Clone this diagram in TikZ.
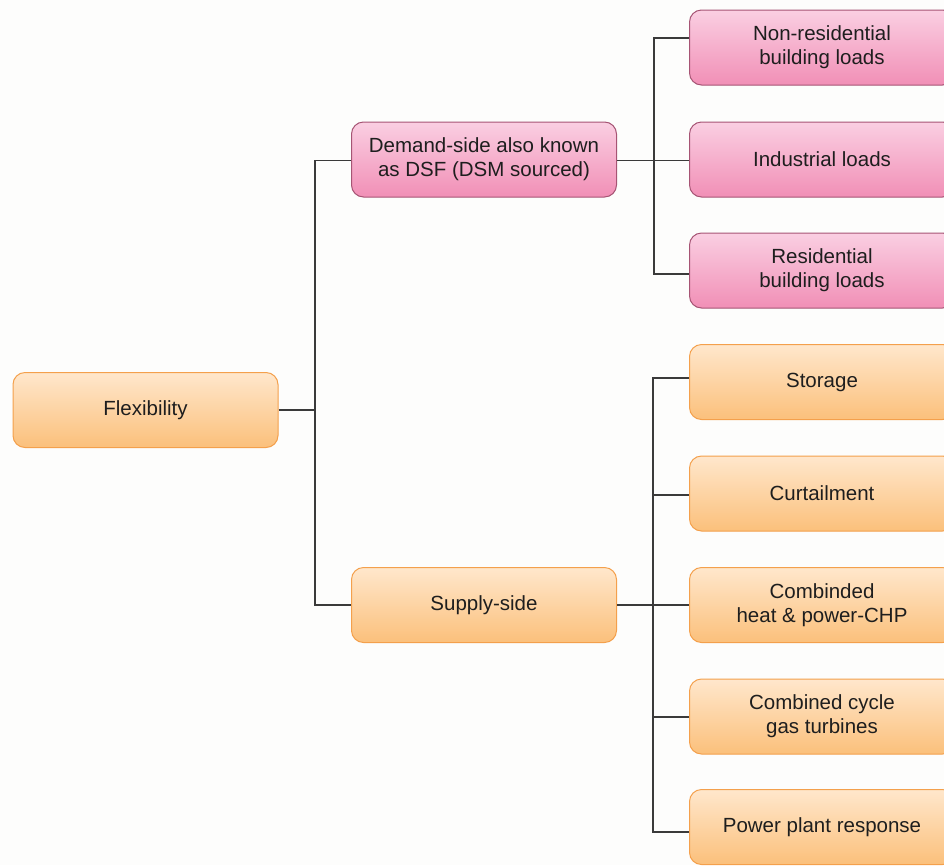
\documentclass[tikz,border=0pt]{standalone}
\usepackage{fontspec}
\setmainfont{Liberation Sans}
\usetikzlibrary{calc}
\definecolor{pinktop}{HTML}{FACFE2}
\definecolor{pinkbot}{HTML}{F18FB6}
\definecolor{pinkline}{HTML}{A65474}
\definecolor{orgtop}{HTML}{FFE7CC}
\definecolor{orgbot}{HTML}{FBC07B}
\definecolor{orgline}{HTML}{F4A04C}
\definecolor{txt}{HTML}{1E1E1E}
\definecolor{conn}{HTML}{3A3A3A}
\definecolor{bg}{HTML}{FDFDFC}
\tikzset{
  boxbase/.style={rounded corners=12pt, minimum width=265pt, minimum height=75pt,
    inner sep=0pt, align=center, text=txt, line width=1pt,
    font=\fontsize{20.5pt}{24pt}\selectfont},
  pinkbox/.style={boxbase, top color=pinktop, bottom color=pinkbot, draw=pinkline},
  orgbox/.style={boxbase, top color=orgtop, bottom color=orgbot, draw=orgline},
  wire/.style={draw=conn, line width=1.4pt}
}
\begin{document}
\begin{tikzpicture}[x=1pt,y=1pt]
\fill[bg] (0,0) rectangle (944,-865);
\useasboundingbox (0,0) rectangle (944,-865);
\clip (0,0) rectangle (944,-865);

\node[orgbox] (flex) at (145.5,-410) {Flexibility};
\node[pinkbox] (dem) at (484,-159.5) {Demand-side also known\\as DSF (DSM sourced)};
\node[orgbox] (sup) at (484,-605) {Supply-side};

\node[pinkbox] (nr) at (822,-47.5) {Non-residential\\building loads};
\node[pinkbox] (ind) at (822,-159.5) {Industrial loads};
\node[pinkbox] (res) at (822,-270.5) {Residential\\building loads};
\node[orgbox] (sto) at (822,-382) {Storage};
\node[orgbox] (cur) at (822,-493.5) {Curtailment};
\node[orgbox] (chp) at (822,-605) {Combinded\\heat \& power-CHP};
\node[orgbox] (ccg) at (822,-716.5) {Combined cycle\\gas turbines};
\node[orgbox] (ppr) at (822,-827) {Power plant response};

\coordinate (b1) at (315,-410);
\coordinate (b2) at (654,-160.5);
\coordinate (b3) at (653,-605);

% Flexibility to level 1
\draw[wire] (flex.east) -- (b1);
\draw[wire] (b1) |- ($(dem.west)+(0,-1)$);
\draw[wire] (b1) |- (sup.west);

% Demand-side to loads
\draw[wire] ($(dem.east)+(0,-1)$) -- ($(ind.west)+(0,-1)$);
\draw[wire] (b2) |- ($(nr.west)+(0,9.5)$);
\draw[wire] (b2) |- ($(res.west)+(0,-3.5)$);

% Supply-side to sources
\draw[wire] (sup.east) -- (chp.west);
\draw[wire] (b3) |- ($(sto.west)+(0,4)$);
\draw[wire] (b3) |- ($(cur.west)+(0,-1.5)$);
\draw[wire] (b3) |- ($(ccg.west)+(0,-0.5)$);
\draw[wire] (b3) |- ($(ppr.west)+(0,-5)$);
\end{tikzpicture}
\end{document}
